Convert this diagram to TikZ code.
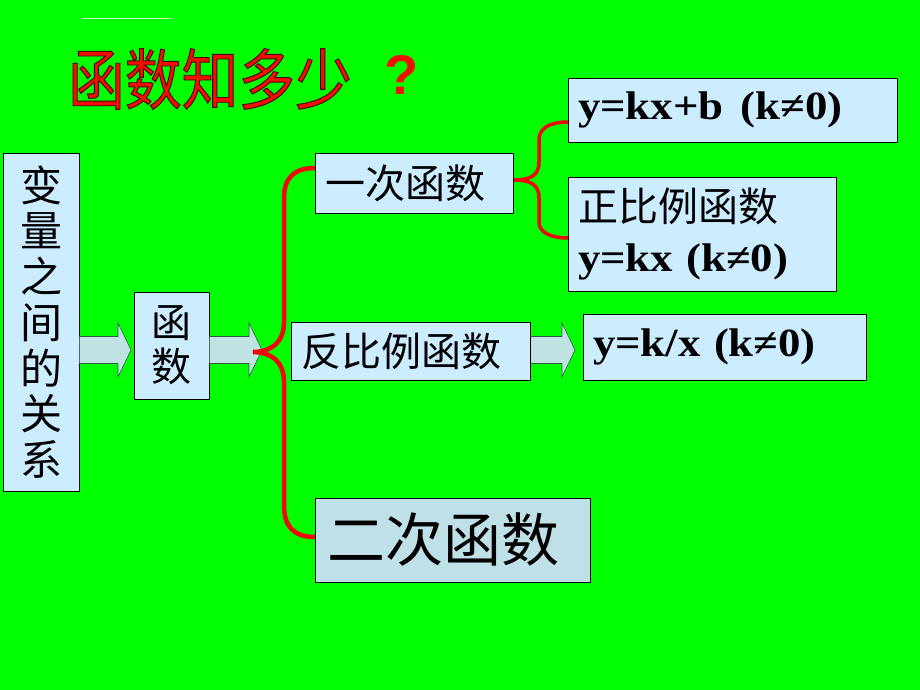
\documentclass[tikz,border=0pt]{standalone}
\usepackage{fontspec}
\setmainfont{Liberation Serif}
\newfontfamily\cjk{Noto Sans CJK SC}
\newfontfamily\titlefont[FakeStretch=0.86]{Noto Sans CJK SC}
\newfontfamily\eqfont[FakeStretch=1.12]{Liberation Serif}
\newfontfamily\qfont{Liberation Sans}
\usetikzlibrary{calc}

\definecolor{bggreen}{RGB}{0,255,0}
\definecolor{boxblue}{RGB}{204,236,255}
\definecolor{boxteal}{RGB}{190,224,230}
\definecolor{arrowfill}{RGB}{192,226,226}
\definecolor{arrowline}{RGB}{45,90,75}
\definecolor{bracered}{RGB}{240,8,8}
\definecolor{titlered}{RGB}{240,16,0}
\newcommand{\outlined}[1]{\special{pdf:literal direct 2 Tr 0.9 w 0.3 0 0 RG}#1\special{pdf:literal direct 0 Tr}}

\begin{document}
\begin{tikzpicture}[x=1pt,y=-1pt,
    box/.style={draw=black, line width=0.8pt, fill=boxblue, inner xsep=10pt, inner ysep=0pt, align=left},
    cnbox/.style={box, font=\cjk\fontsize{40}{48}\selectfont},
    eqbox/.style={box, font=\eqfont\bfseries\fontsize{40}{48}\selectfont},
    vbox/.style={draw=black, line width=0.8pt, fill=boxblue, inner sep=0pt, align=center},
    fatarrow/.style={draw=arrowline, fill=arrowfill, line width=0.6pt,
      to path={let \p1=(\tikztostart), \p2=(\tikztotarget) in
        (\x1,\y1+13.5pt) -- (\x2-13pt,\y1+13.5pt) -- (\x2-13pt,\y1+27pt) -- (\x2,\y1)
        -- (\x2-13pt,\y1-27pt) -- (\x2-13pt,\y1-13.5pt) -- (\x1,\y1-13.5pt) -- cycle}},
    brace/.style={draw=bracered, line width=4.5pt, line cap=round},
    title/.style={font=\titlefont\fontsize{66}{70}\selectfont, text=titlered, inner sep=0pt}
  ]
  \useasboundingbox (0,0) rectangle (920,690);
  \fill[bggreen] (0,0) rectangle (920,690);
  \draw[white!75!bggreen, line width=0.6pt] (82,18) -- (172,18);

  % title
  \node[title] (ttl) at (210,79) {\outlined{函数知多少}};
  \node[font=\qfont\bfseries\fontsize{56}{60}\selectfont, text=titlered, inner sep=0pt] (qmark) at (402,75) {?};

  % positions
  \coordinate (a1end) at (131,350);
  \coordinate (a2end) at (262,350);
  \coordinate (a3end) at (575,350);
  \coordinate (bigcusp) at (253,352);

  \node[vbox, minimum width=76pt, minimum height=338pt, font=\cjk\fontsize{42}{45.7}\selectfont] (rel) at (41,322) {变\\量\\之\\间\\的\\关\\系};
  \node[vbox, minimum width=75pt, minimum height=107pt, font=\cjk\fontsize{40}{44}\selectfont] (func) at (171.5,345.5) {函\\数};
  \path (414,183) coordinate (linpos) (410.5,351) coordinate (invpos) (452.5,540) coordinate (quadpos);

  % arrows
  \draw[fatarrow] (rel.east |- a1end) to (a1end);
  \draw[fatarrow] (func.east |- a2end) to (a2end);
  \draw[fatarrow] (530,350) to (a3end);

  % braces
  \draw[brace] (315,168) .. controls (294,168) and (284,178) .. (284,198) -- (284,322)
    .. controls (284,345) and (268,352) .. (bigcusp)
    .. controls (268,352) and (284,359) .. (284,382) -- (284,505)
    .. controls (284,527) and (294,537) .. (315,537);
  \draw[brace, line width=3.5pt] (513,180) .. controls (530,180) and (539,176) .. (539,162) -- (539,140)
    .. controls (539,128) and (550,122) .. (568,122);
  \draw[brace, line width=3.5pt] (513,180) .. controls (530,180) and (539,184) .. (539,198) -- (539,222)
    .. controls (539,232) and (550,238) .. (568,238);

  \node[cnbox, text width=178pt, minimum height=60pt] (lin) at (linpos) {一次函数};
  \node[eqbox, text width=309pt, minimum height=64pt] (linf) at (732.5,110) {y=kx+b\hspace{4pt} (k≠0)};
  \node[box, text width=248pt, minimum height=114pt, font=\fontsize{40}{50}\selectfont] (prop) at (702,234) {{\cjk 正比例函数}\\{\eqfont\bfseries y=kx (k≠0)}};
  \node[cnbox, text width=219pt, minimum height=58pt] (inv) at (invpos) {反比例函数};
  \node[eqbox, text width=263pt, minimum height=66pt] (invf) at (724.5,347) {y=k/x (k≠0)};
  \node[cnbox, fill=boxteal, text width=251pt, minimum height=84pt, inner xsep=12pt, font=\cjk\fontsize{58}{64}\selectfont] (quad) at (quadpos) {二次函数};
\end{tikzpicture}
\end{document}
